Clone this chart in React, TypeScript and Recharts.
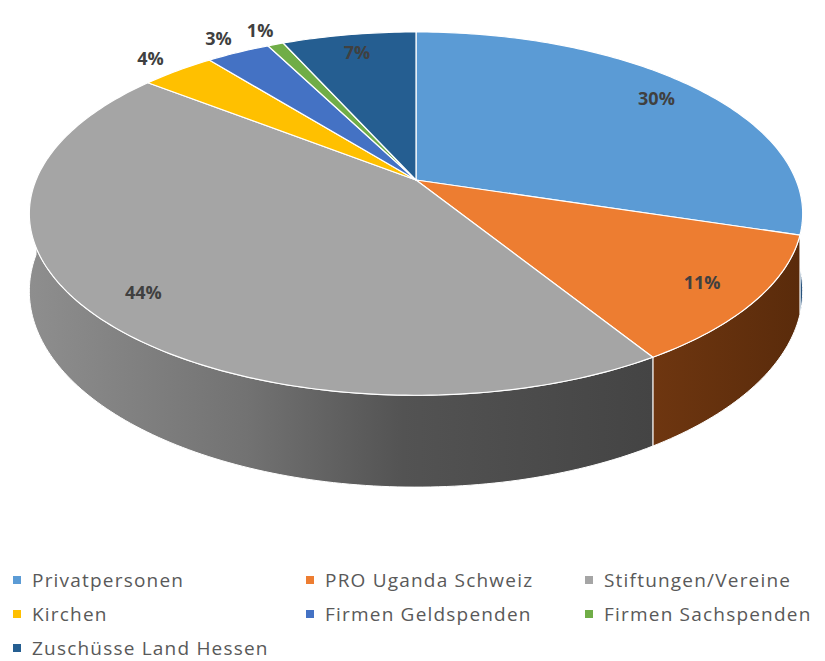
import React from 'react';
import { PieChart, Pie, Legend } from 'recharts';

const categories = [
  'Privatpersonen',
  'PRO Uganda Schweiz',
  'Stiftungen/Vereine',
  'Kirchen',
  'Firmen Geldspenden',
  'Firmen Sachspenden',
  'Zuschüsse Land Hessen',
];
const shares = [29.8, 11.4, 44.4, 3.7, 3.2, 0.8, 6.7];
const percentLabels = ['30%', '11%', '44%', '4%', '3%', '1%', '7%'];
const faceColors = ['#5b9bd5', '#ed7d31', '#a5a5a5', '#ffc000', '#4472c4', '#70ad47', '#255e91'];

const data = categories.map((name, i) => ({ name, value: shares[i] }));

// 3D look: vertical squash, perspective strength and wall height (fractions of radius)
const SQUASH = 0.4617;
const PERSP = 0.185;
const DEPTH = 0.197;

type Pt = [number, number];

const project = (cx: number, cy: number, r: number, deg: number, frac = 1, drop = 0): Pt => {
  const t = (deg * Math.PI) / 180;
  const u = frac * Math.cos(t);
  const w = frac * Math.sin(t);
  const s = 1 + PERSP * w;
  return [cx + (r * u) / s, cy + (r * (-SQUASH * w + drop)) / s];
};

const arc = (cx: number, cy: number, r: number, a0: number, a1: number, drop: number): Pt[] => {
  const n = Math.max(2, Math.ceil(Math.abs(a1 - a0)) + 1);
  const pts: Pt[] = [];
  for (let i = 0; i < n; i++) {
    pts.push(project(cx, cy, r, a0 + ((a1 - a0) * i) / (n - 1), 1, drop));
  }
  return pts;
};

const toPath = (pts: Pt[]) => pts.map((p, i) => `${i ? 'L' : 'M'}${p[0].toFixed(2)},${p[1].toFixed(2)}`).join(' ');

const TopFace = (props: any) => {
  const { cx, cy, outerRadius, startAngle, endAngle, index } = props;
  const pts = arc(cx, cy, outerRadius, startAngle, endAngle, 0);
  const d = `M${cx},${cy} ` + toPath(pts).replace(/^M/, 'L') + ' Z';
  return <path d={d} fill={faceColors[index]} stroke="#ffffff" strokeWidth={1.2} strokeLinejoin="round" />;
};

const Wall = (props: any) => {
  const { cx, cy, outerRadius, startAngle, endAngle, index } = props;
  // only the front half of the rim is visible
  const hi = Math.min(Math.max(startAngle, endAngle), 0);
  const lo = Math.max(Math.min(startAngle, endAngle), -180);
  if (hi <= lo) return <g />;
  const top = arc(cx, cy, outerRadius, hi, lo, 0);
  const bottom = arc(cx, cy, outerRadius, lo, hi, DEPTH);
  const d = toPath([...top, ...bottom]) + ' Z';
  return <path d={d} fill={`url(#wall-${index})`} stroke="#ffffff" strokeWidth={1} strokeLinejoin="round" />;
};

const renderLabel = (props: any) => {
  const { cx, cy, outerRadius, midAngle, index } = props;
  const frac = shares[index] < 5 ? 1.13 : 0.86;
  const [x, y] = project(cx, cy, outerRadius, midAngle, frac, 0);
  return (
    <text
      x={x}
      y={y}
      textAnchor="middle"
      dominantBaseline="central"
      fill="#404040"
      fontSize={18}
      fontWeight={700}
      fontFamily="'Open Sans', sans-serif"
    >
      {percentLabels[index]}
    </text>
  );
};

const renderLegend = () => (
  <div
    style={{
      display: 'grid',
      gridTemplateColumns: '293px 279px 253px',
      rowGap: 12,
      fontFamily: "'Open Sans', sans-serif",
      fontSize: 19,
      letterSpacing: 1.2,
      color: '#595959',
      lineHeight: '22px',
      whiteSpace: 'nowrap',
    }}
  >
    {categories.map((name, i) => (
      <div key={name} style={{ display: 'flex', alignItems: 'center', paddingLeft: 13 }}>
        <span style={{ width: 8, height: 8, background: faceColors[i], marginRight: 11, display: 'inline-block', flex: 'none' }} />
        <span>{name}</span>
      </div>
    ))}
  </div>
);

export default function App() {
  return (
    <div style={{ position: 'fixed', left: 0, top: 0, width: 825, height: 661, background: '#ffffff', overflow: 'hidden' }}>
      <PieChart width={825} height={661} margin={{ top: 0, right: 0, bottom: 0, left: 0 }}>
        <defs>
          <linearGradient id="wall-0" x1="0" y1="0" x2="1" y2="0">
            <stop offset="0%" stopColor="#2f5f8e" />
            <stop offset="100%" stopColor="#264f78" />
          </linearGradient>
          <linearGradient id="wall-1" x1="0" y1="0" x2="1" y2="0">
            <stop offset="0%" stopColor="#6e3610" />
            <stop offset="100%" stopColor="#5a2b0b" />
          </linearGradient>
          <linearGradient id="wall-2" x1="0" y1="0" x2="1" y2="0">
            <stop offset="0%" stopColor="#8e8e8e" />
            <stop offset="35%" stopColor="#727272" />
            <stop offset="60%" stopColor="#535353" />
            <stop offset="100%" stopColor="#444444" />
          </linearGradient>
        </defs>
        <Pie
          data={data}
          dataKey="value"
          nameKey="name"
          cx={416}
          cy={180}
          outerRadius={380}
          startAngle={90}
          endAngle={-270}
          stroke="none"
          legendType="none"
          shape={Wall}
          isAnimationActive={false}
        />
        <Pie
          data={data}
          dataKey="value"
          nameKey="name"
          cx={416}
          cy={180}
          outerRadius={380}
          startAngle={90}
          endAngle={-270}
          shape={TopFace}
          label={renderLabel}
          labelLine={false}
          isAnimationActive={false}
        />
        <Legend content={renderLegend} wrapperStyle={{ left: 0, top: 569, width: 825 }} />
      </PieChart>
    </div>
  );
}
